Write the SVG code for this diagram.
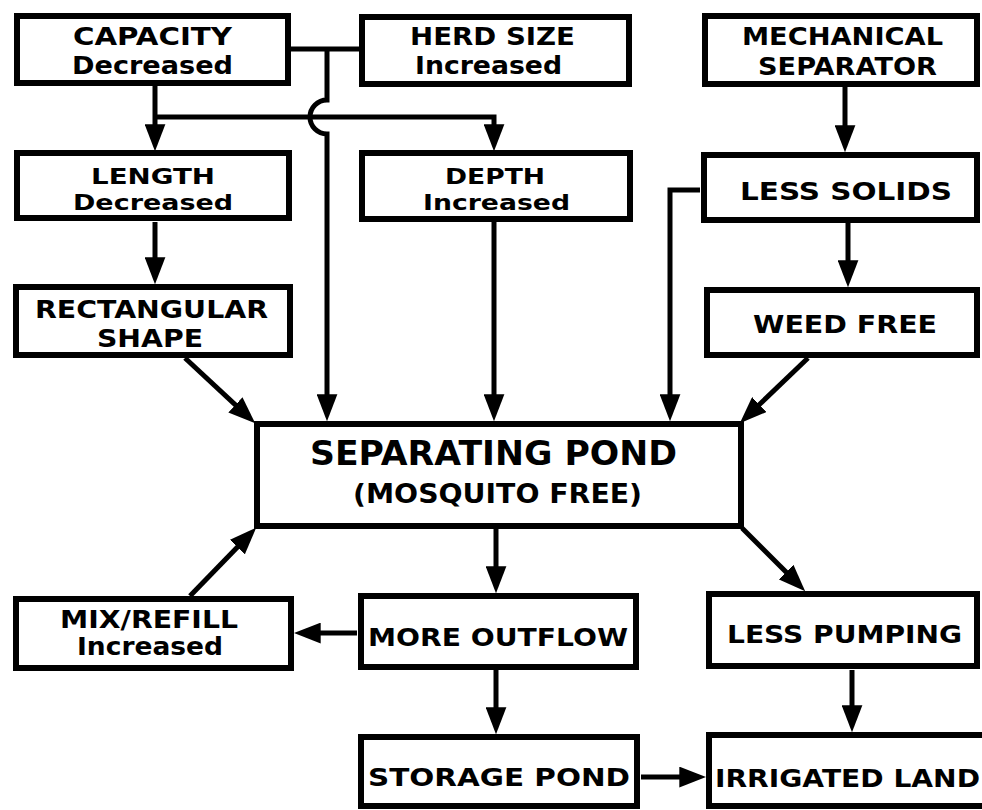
<svg xmlns="http://www.w3.org/2000/svg" width="982" height="810" viewBox="0 0 982 810">
<style>
.box{fill:#fff;stroke:#000;stroke-width:6}
.t{font-family:"DejaVu Sans","Liberation Sans",Arial,sans-serif;font-weight:bold;font-size:24px;fill:#000;text-anchor:middle}
.s{font-size:22px}
.c{fill:none;stroke:#000;stroke-width:5}
.a{marker-end:url(#ah)}
</style>
<defs>
<marker id="ah" markerUnits="userSpaceOnUse" markerWidth="27" markerHeight="21" refX="18" refY="10" orient="auto" viewBox="0 0 26 20">
<path d="M0,0 L26,10 L0,20 z" fill="#000"/>
</marker>
</defs>
<rect width="982" height="810" fill="#fff"/>
<g id="connectors">
<path class="c" d="M290,49 H359"/>
<path class="c a" d="M327,49 V100 A17,17 0 0 0 327,134 V413"/>
<path class="c a" d="M155,85 V143"/>
<path class="c a" d="M155,117 H494 V143"/>
<path class="c a" d="M155,222 V276"/>
<path class="c a" d="M185,358 L249.1,417.6"/>
<path class="c a" d="M494,222 V413"/>
<path class="c a" d="M845,87 V144"/>
<path class="c a" d="M700,190 H670 V413"/>
<path class="c a" d="M848,223 V279"/>
<path class="c a" d="M808,358 L745.8,417.5"/>
<path class="c a" d="M190,596 L250.4,533.7"/>
<path class="c a" d="M496,529 V585"/>
<path class="c a" d="M357,633 H302"/>
<path class="c a" d="M742,528 L799.3,585.3"/>
<path class="c a" d="M496,670 V726"/>
<path class="c a" d="M852,670 V724"/>
<path class="c a" d="M641,777 H698"/>
</g>
<g id="capacity">
<rect class="box" x="17" y="16" width="271" height="67"/>
<text class="t" x="152.5" y="45" textLength="159" lengthAdjust="spacingAndGlyphs">CAPACITY</text>
<text class="t" x="152.5" y="74" textLength="161" lengthAdjust="spacingAndGlyphs">Decreased</text>
</g>
<g id="herd">
<rect class="box" x="362" y="17" width="267" height="67"/>
<text class="t" x="492.5" y="45" textLength="165" lengthAdjust="spacingAndGlyphs">HERD SIZE</text>
<text class="t" x="488.5" y="74" textLength="147" lengthAdjust="spacingAndGlyphs">Increased</text>
</g>
<g id="mechanical">
<rect class="box" x="705" y="16" width="272" height="68"/>
<text class="t" x="842.5" y="45" textLength="201" lengthAdjust="spacingAndGlyphs">MECHANICAL</text>
<text class="t" x="847.5" y="75" textLength="179" lengthAdjust="spacingAndGlyphs">SEPARATOR</text>
</g>
<g id="length">
<rect class="box" x="17" y="153" width="272" height="65"/>
<text class="t s" x="153" y="184" textLength="124" lengthAdjust="spacingAndGlyphs">LENGTH</text>
<text class="t s" x="153" y="210" textLength="160" lengthAdjust="spacingAndGlyphs">Decreased</text>
</g>
<g id="depth">
<rect class="box" x="362" y="153" width="268" height="66"/>
<text class="t s" x="495" y="184" textLength="100" lengthAdjust="spacingAndGlyphs">DEPTH</text>
<text class="t s" x="496.5" y="210" textLength="147" lengthAdjust="spacingAndGlyphs">Increased</text>
</g>
<g id="lesssolids">
<rect class="box" x="704" y="155" width="273" height="65"/>
<text class="t" x="846" y="200" textLength="212" lengthAdjust="spacingAndGlyphs">LESS SOLIDS</text>
</g>
<g id="rectangular">
<rect class="box" x="16" y="287" width="274" height="68"/>
<text class="t" x="151.5" y="318" textLength="233" lengthAdjust="spacingAndGlyphs">RECTANGULAR</text>
<text class="t" x="150" y="347" textLength="106" lengthAdjust="spacingAndGlyphs">SHAPE</text>
</g>
<g id="weedfree">
<rect class="box" x="707" y="290" width="270" height="65"/>
<text class="t" x="845" y="333" textLength="184" lengthAdjust="spacingAndGlyphs">WEED FREE</text>
</g>
<g id="separating">
<rect class="box" x="257" y="424" width="484" height="102"/>
<text class="t" x="493.5" y="465" style="font-size:34px" textLength="367" lengthAdjust="spacingAndGlyphs">SEPARATING POND</text>
<text class="t" x="497.5" y="503" style="font-size:27px" textLength="289" lengthAdjust="spacingAndGlyphs">(MOSQUITO FREE)</text>
</g>
<g id="mixrefill">
<rect class="box" x="16" y="599" width="275" height="69"/>
<text class="t" x="149" y="628" textLength="178" lengthAdjust="spacingAndGlyphs">MIX/REFILL</text>
<text class="t" x="150" y="655" textLength="146" lengthAdjust="spacingAndGlyphs">Increased</text>
</g>
<g id="outflow">
<rect class="box" x="361" y="596" width="275" height="71"/>
<text class="t" x="498" y="646" textLength="260" lengthAdjust="spacingAndGlyphs">MORE OUTFLOW</text>
</g>
<g id="pumping">
<rect class="box" x="709" y="594" width="268" height="72"/>
<text class="t" x="844.5" y="643" textLength="235" lengthAdjust="spacingAndGlyphs">LESS PUMPING</text>
</g>
<g id="storage">
<rect class="box" x="361" y="737" width="276" height="69"/>
<text class="t" x="499" y="786" textLength="262" lengthAdjust="spacingAndGlyphs">STORAGE POND</text>
</g>
<g id="irrigated">
<rect class="box" x="709" y="735" width="285" height="71"/>
<text class="t" x="847.5" y="787" textLength="265" lengthAdjust="spacingAndGlyphs">IRRIGATED LAND</text>
</g>
</svg>
